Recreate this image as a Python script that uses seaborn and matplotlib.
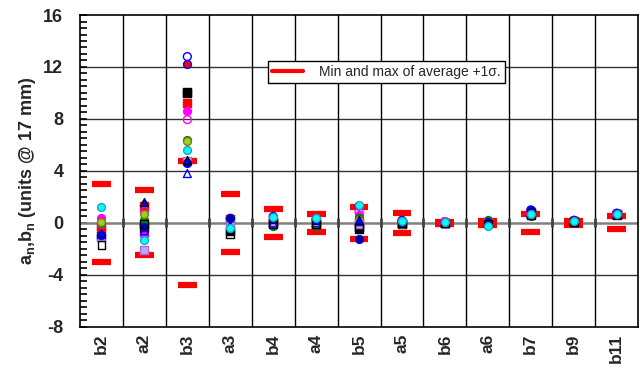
import numpy as np
import pandas as pd
import seaborn as sns
import matplotlib.pyplot as plt
from matplotlib.lines import Line2D
from matplotlib.ticker import MultipleLocator, FixedLocator

# harmonics on the x axis
harmonics = ["b2", "a2", "b3", "a3", "b4", "a4", "b5", "a5", "b6", "a6", "b7", "b9", "b11"]

# red bars: min and max of average +1 sigma
bar_max = [3.0, 2.5, 4.8, 2.2, 1.1, 0.7, 1.2, 0.8, 0.1, 0.15, 0.7, 0.15, 0.5]
bar_min = [-3.0, -2.5, -4.8, -2.2, -1.1, -0.7, -1.2, -0.8, -0.1, -0.15, -0.7, -0.15, -0.5]

# measured magnets (one list per magnet)
open_blue   = [-0.5, -0.2, 12.8, 0.35, 0.5, 0.3, 1.3, 0.2, 0.1, 0.1, 1.0, 0.2, 0.75]
red_circle  = [-0.25, 1.4, 12.25, 0.4, 0.25, 0.1, 0.3, 0.0, 0.0, 0.0, 0.95, 0.15, 0.7]
black_sq    = [-1.0, -0.4, 10.0, -0.6, 0.0, -0.1, -0.5, -0.1, 0.0, 0.0, 0.8, 0.1, 0.7]
red_sq      = [-0.3, 1.3, 9.2, 0.3, 0.1, 0.0, 0.0, 0.0, 0.0, 0.0, 0.85, 0.15, 0.65]
magenta     = [0.4, -0.9, 8.65, -0.1, 0.15, 0.15, 0.6, 0.05, 0.1, 0.15, 0.8, 0.2, 0.7]
magenta_op  = [-0.1, 0.9, 7.95, 0.0, 0.2, 0.25, 0.85, 0.1, 0.1, 0.1, 0.75, 0.15, 0.7]
green       = [0.0, 0.25, 6.35, 0.1, -0.2, -0.2, 0.4, -0.1, 0.0, 0.2, 0.55, 0.1, 0.65]
olive       = [0.1, 0.7, 6.3, 0.05, 0.05, 0.0, 0.25, -0.05, 0.05, 0.1, 0.6, 0.1, 0.65]
lavender    = [-1.05, -2.05, 4.8, -0.2, 0.1, 0.1, -0.1, 0.0, 0.0, 0.0, 0.7, 0.1, 0.65]
navy        = [-0.95, -0.35, 4.6, 0.4, 0.4, 0.3, -1.2, 0.1, 0.05, 0.05, 1.0, 0.2, 0.78]
black_tri   = [-0.8, 1.6, 4.85, -0.3, 0.3, 0.2, 0.2, 0.0, 0.0, 0.0, 0.8, 0.1, 0.7]
blue_tri    = [-0.9, -0.6, 3.8, -0.2, 0.0, 0.0, 0.1, 0.0, 0.0, 0.0, 0.7, 0.1, 0.6]
black_op_sq = [-1.7, -0.1, 10.1, -0.85, -0.1, -0.1, -0.35, -0.05, -0.05, -0.05, 0.6, 0.1, 0.6]
cyan        = [1.2, -1.35, 5.6, -0.4, 0.45, 0.4, 1.35, 0.15, 0.1, -0.2, 0.7, 0.15, 0.65]

series = [
    (open_blue, "o", "none", "blue"),
    (red_circle, "o", "red", "blue"),
    (black_sq, "s", "black", "black"),
    (red_sq, "s", "red", "red"),
    (magenta, "o", "magenta", "magenta"),
    (magenta_op, "o", "none", "magenta"),
    (green, "o", "green", "green"),
    (olive, "o", "yellowgreen", "olive"),
    (lavender, "s", "#c9a0f5", "#a070e0"),
    (navy, "o", "navy", "blue"),
    (black_tri, "^", "blue", "black"),
    (blue_tri, "^", "none", "blue"),
    (black_op_sq, "s", "none", "black"),
    (cyan, "o", "cyan", "#2aa0c0"),
]

sns.set_theme(style="white")
plt.rcParams["font.family"] = ["Liberation Sans", "DejaVu Sans"]
plt.rcParams["axes.unicode_minus"] = False
plt.rcParams["mathtext.fontset"] = "custom"
plt.rcParams["mathtext.rm"] = "Liberation Sans:bold"
plt.rcParams["mathtext.it"] = "Liberation Sans:bold"
plt.rcParams["mathtext.bf"] = "Liberation Sans:bold"

pos = np.arange(len(harmonics))

fig = plt.figure(figsize=(6.4, 3.85), dpi=100)
ax = fig.add_axes([0.125, 0.151, 0.872, 0.81])

# red bars
half = 0.22
ax.hlines(bar_max, pos - half, pos + half, color="red", lw=4.5, zorder=2)
ax.hlines(bar_min, pos - half, pos + half, color="red", lw=4.5, zorder=2)

# markers
for vals, mk, fc, ec in series:
    d = pd.DataFrame({"pos": pos, "val": vals})
    sns.scatterplot(data=d, x="pos", y="val", marker=mk, s=32, color=fc,
                    edgecolor=ec, linewidth=1.0, ax=ax, zorder=3, legend=False)

# zero axis line with category ticks
ax.axhline(0, color="#808080", lw=1.8, zorder=1)
ax.vlines(pos[:-1] + 0.5, -0.35, 0.35, color="#444444", lw=2, zorder=1)

ax.set_xlim(-0.5, len(harmonics) - 0.5)
ax.set_ylim(-8, 16)
ax.yaxis.set_major_locator(MultipleLocator(4))
ax.yaxis.set_minor_locator(MultipleLocator(0.5))
ax.tick_params(axis="y", which="both", direction="in", left=True, length=5,
               width=1.2, color="black", labelsize=13, pad=12)
for lab in ax.get_yticklabels():
    lab.set_fontweight("bold")

ax.set_xticks(pos)
ax.set_xticklabels(harmonics, rotation=90, fontsize=12.5, fontweight="bold")
ax.xaxis.set_minor_locator(FixedLocator(pos[:-1] + 0.5))
ax.tick_params(axis="x", which="both", length=0, pad=5)

ax.grid(False)
ax.grid(True, axis="x", which="minor", color="black", lw=1)
for yv in [-4, 4, 8, 12]:
    ax.axhline(yv, color="#333333", lw=1, zorder=0)

for sp in ax.spines.values():
    sp.set_color("black")
    sp.set_linewidth(1.2)

ax.set_xlabel("")
ax.set_ylabel(r"a$_n$,b$_n$ (units @ 17 mm)", fontsize=13, fontweight="bold", labelpad=4)

handle = Line2D([0], [0], color="red", lw=3)
leg = ax.legend([handle], ["Min and max of average +1σ."], loc="upper left",
                bbox_to_anchor=(0.337, 0.853), borderaxespad=0, fontsize=10,
                frameon=True, fancybox=False, framealpha=1, edgecolor="black",
                handlelength=2.2, borderpad=0.3, handletextpad=1.2)
leg.get_frame().set_linewidth(1)
leg.set_zorder(5)

fig.savefig("out.png", dpi=100)
